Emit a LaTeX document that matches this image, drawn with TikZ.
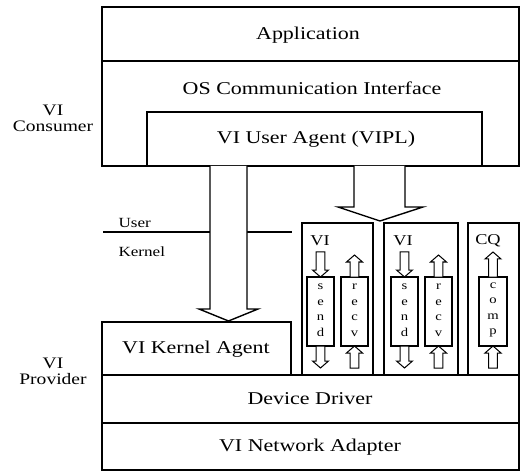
\documentclass[tikz,border=0pt]{standalone}
\usepackage{fontspec}
\setmainfont{Liberation Serif}[FakeStretch=1.22]
\usetikzlibrary{calc}
\newcommand{\hArrow}[3]{% x, ystart, yend (tip)
  \pgfmathsetmacro\hbase{#3 - 7*sign(#3-#2)}
  \filldraw[fill=white,line width=1pt] (#1-4.3,#2) -- (#1-4.3,\hbase) -- (#1-8,\hbase) -- (#1,#3) -- (#1+8,\hbase) -- (#1+4.3,\hbase) -- (#1+4.3,#2) -- cycle;}
\tikzset{
  frame/.style={draw,line width=1.4pt},
  big/.style={font=\fontsize{18}{20}\selectfont},
  side/.style={font=\fontsize{16}{19}\selectfont,align=center},
  small/.style={font=\fontsize{14}{16}\selectfont},
  lbl/.style={font=\fontsize{15}{17}\selectfont},
  letters/.style={font=\fontsize{12}{15.5}\selectfont,align=center},
  hollow/.style={fill=white,draw,line width=1.4pt}
}
\begin{document}
\begin{tikzpicture}[x=1pt,y=-1pt]
\useasboundingbox (0,0) rectangle (520,476);
% consumer
\draw[frame] (102,7) rectangle (519,166);
\draw[frame] (102,61) -- (519,61);
\draw[frame] (147,166) -- (147,112) -- (482,112) -- (482,166);
\node[big] (app) at (308,35) {Application};
\node[big] (os) at (312,88) {OS Communication Interface};
\node[big] (vipl) at (316,139) {VI User Agent (VIPL)};
\node[side] (cons) at (53,118) {VI\\[-3pt]Consumer};
% user/kernel line
\draw[line width=2.8pt] (103,232) -- (292,232);
\node[small,anchor=west] (user) at (115,223) {User};
\node[small,anchor=west] (kern) at (115,252) {Kernel};
% big arrows
\filldraw[hollow] (210,166) -- (210,309) -- (199,309) -- (228.5,321) -- (258,309) -- (247,309) -- (247,166);
\filldraw[hollow] (354,166) -- (354,207) -- (338,207) -- (380,221) -- (423,207) -- (405,207) -- (405,166);
% provider
\draw[frame] (102,322) rectangle (291,375);
\draw[frame] (102,375) rectangle (519,423);
\draw[frame] (102,423) rectangle (519,470);
\node[big] (vka) at (196,349) {VI Kernel Agent};
\node[big] (dd) at (310,399) {Device Driver};
\node[big] (na) at (310,447) {VI Network Adapter};
\node[side] (prov) at (53,371) {VI\\[-3pt]Provider};
% VI and CQ boxes
\draw[frame] (302,223) rectangle (373,375);
\draw[frame] (384,223) rectangle (458,375);
\draw[frame] (468,223) rectangle (519,375);
\node[lbl] (vi1) at (320,241) {VI};
\node[lbl] (vi2) at (403,241) {VI};
\node[lbl] (cq) at (488,241) {CQ};
% queues
\draw[line width=1.2pt] (307,277) rectangle (334,346);
\draw[line width=1.2pt] (341,277) rectangle (368,346);
\draw[line width=1.2pt] (391,277) rectangle (418,346);
\draw[line width=1.2pt] (425,277) rectangle (452,346);
\draw[line width=1.2pt] (479,277) rectangle (507,346);
\node[letters] (s1) at (320.5,310) {s\\e\\n\\d};
\node[letters] (r1) at (354.5,310) {r\\e\\c\\v};
\node[letters] (s2) at (404.5,310) {s\\e\\n\\d};
\node[letters] (r2) at (438.5,310) {r\\e\\c\\v};
\node[letters] (cp) at (493,310) {c\\o\\m\\p};
% small arrows
\hArrow{320.5}{252}{277}
\hArrow{320.5}{346}{368}
\hArrow{354.5}{277}{255}
\hArrow{354.5}{368}{346}
\hArrow{404.5}{252}{277}
\hArrow{404.5}{346}{368}
\hArrow{438.5}{277}{255}
\hArrow{438.5}{368}{346}
\hArrow{493}{277}{252}
\hArrow{493}{368}{346}
\end{tikzpicture}
\end{document}
